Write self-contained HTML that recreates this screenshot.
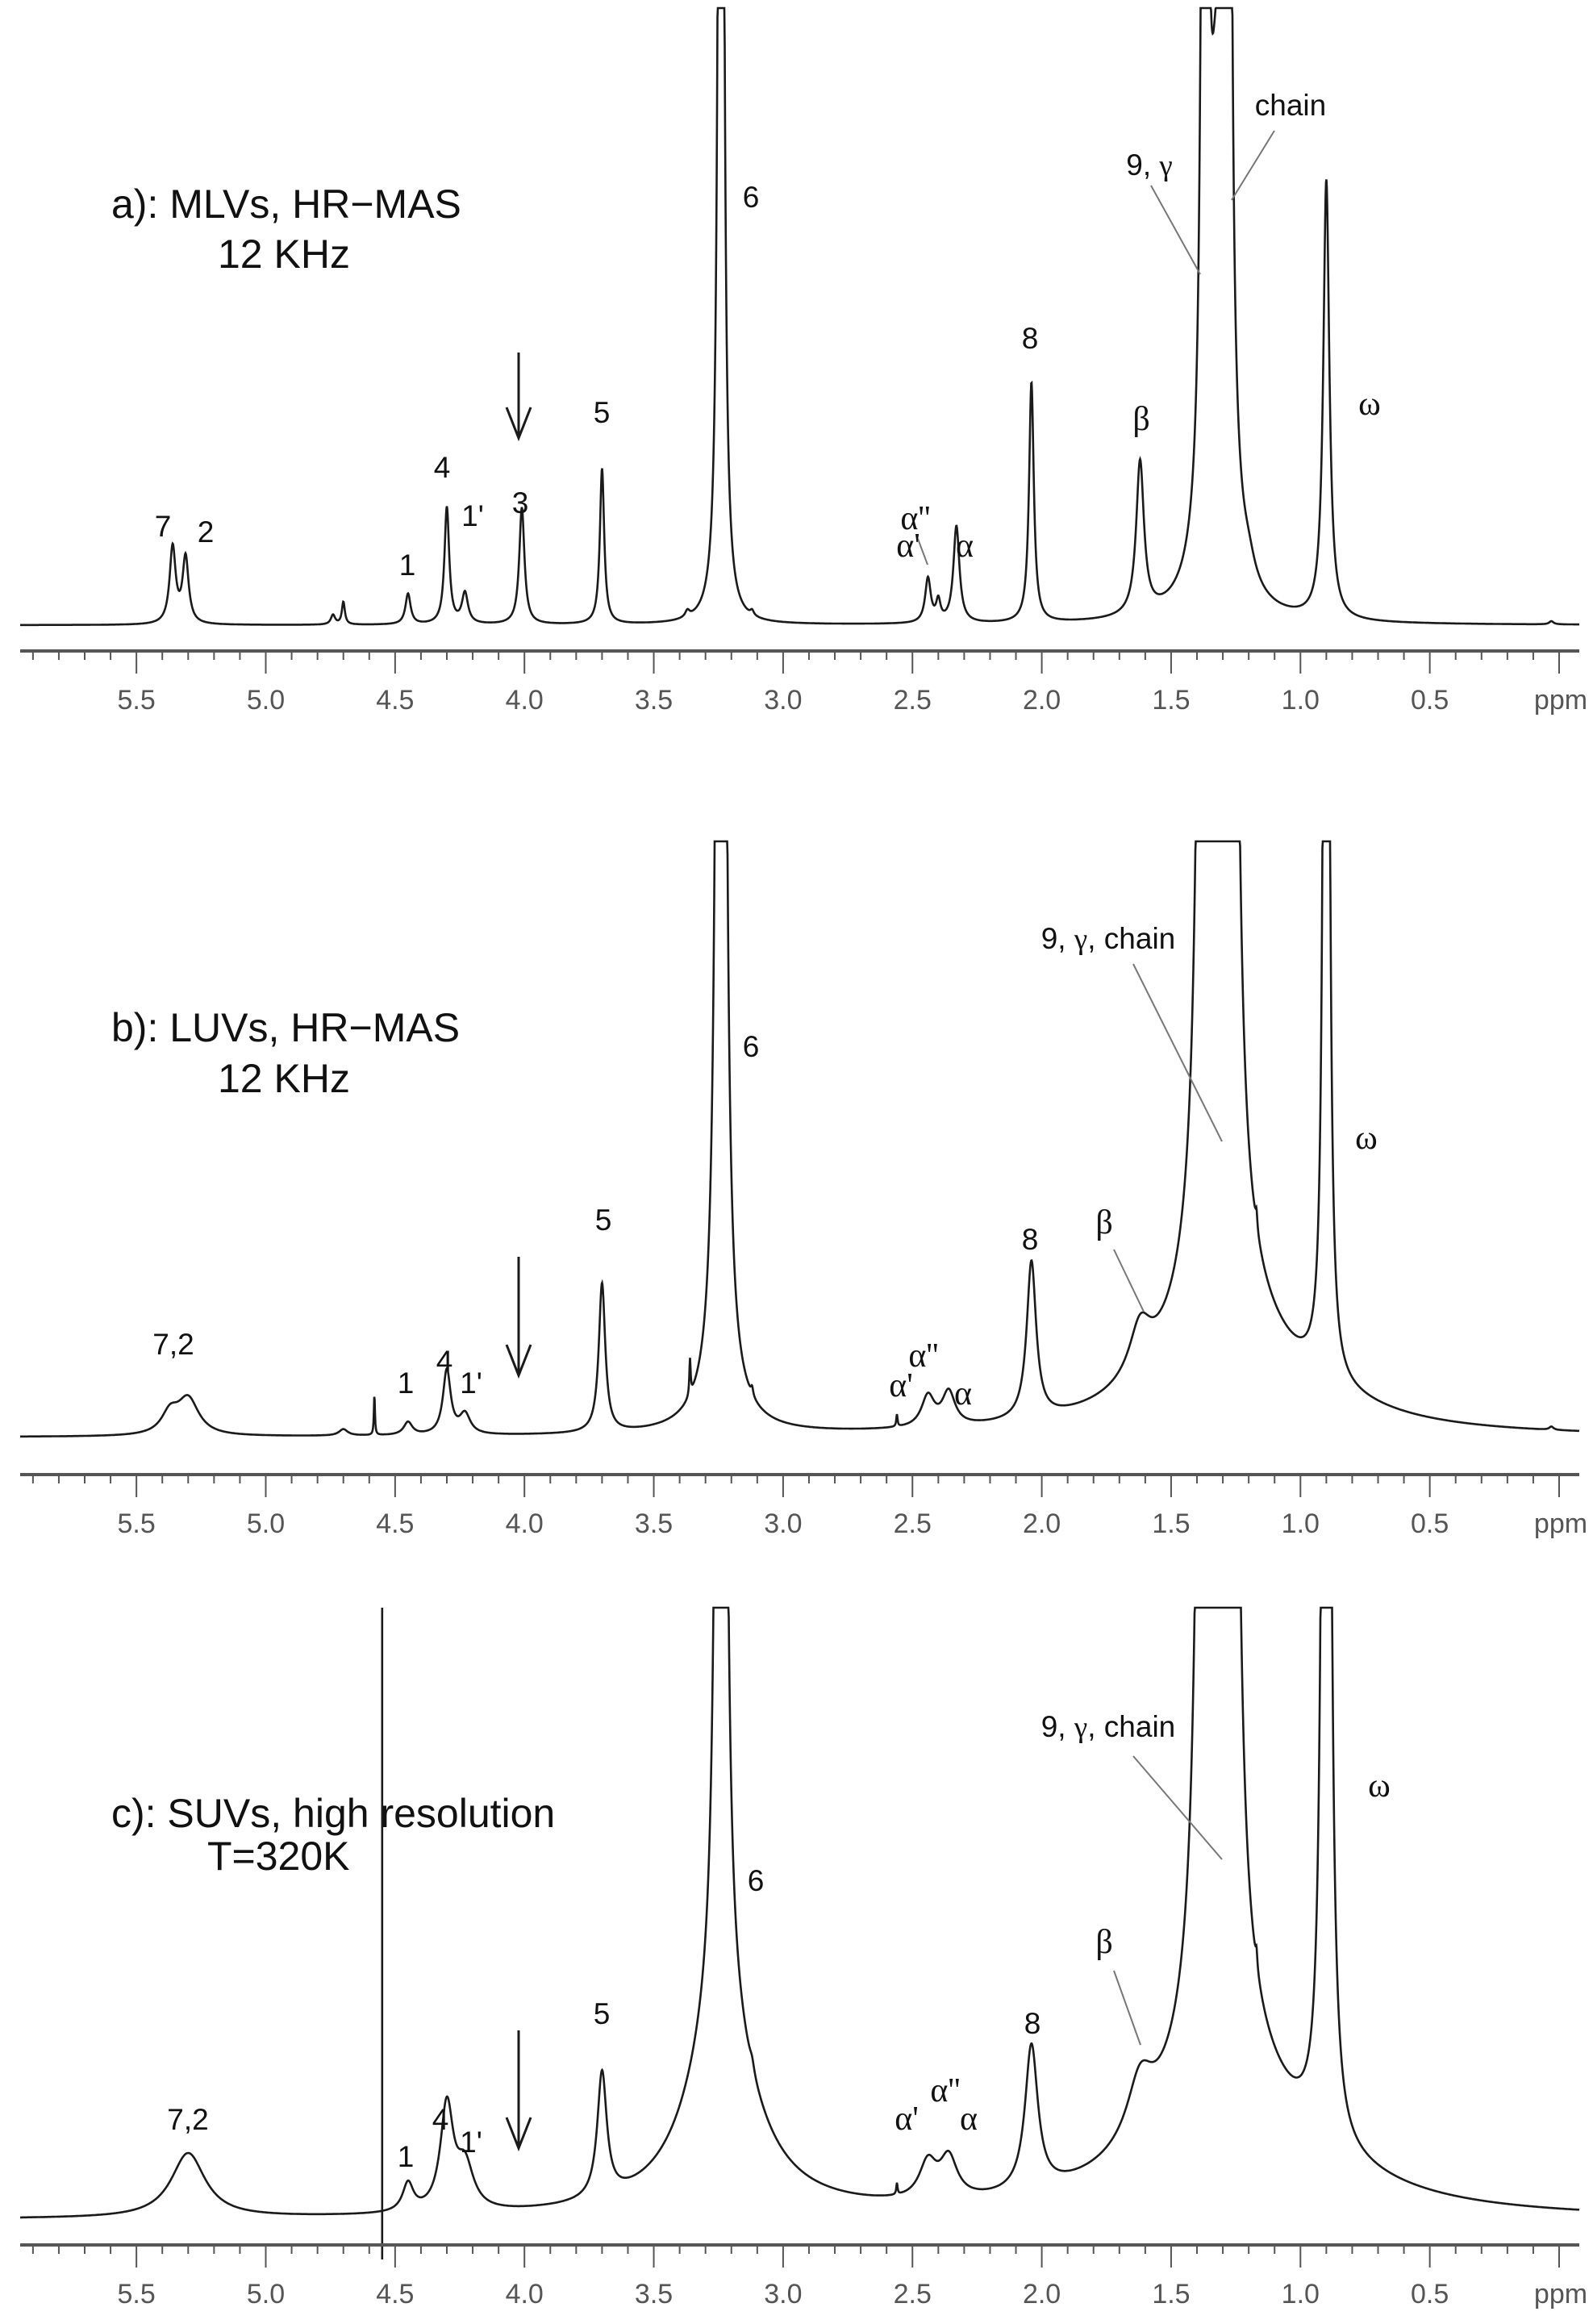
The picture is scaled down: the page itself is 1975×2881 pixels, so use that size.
<!DOCTYPE html>
<html><head><meta charset="utf-8">
<style>
html,body{margin:0;padding:0;background:#fff;}
svg{display:block;}
.t{font-family:"Liberation Sans",sans-serif;fill:#111;}
.tk{font-family:"Liberation Sans",sans-serif;fill:#555;font-size:34px;text-anchor:middle;}
.lb{font-family:"Liberation Sans",sans-serif;fill:#111;font-size:37px;text-anchor:middle;}
.gr{font-family:"Liberation Serif",serif;fill:#111;font-size:42px;text-anchor:middle;}
</style></head>
<body>
<svg id="s" width="1975" height="2881" viewBox="0 0 1975 2881" xmlns="http://www.w3.org/2000/svg">
<g id="spec" fill="none" stroke="#1a1a1a" stroke-width="2.6"></g>
<g id="axes"></g>
<g id="ann" stroke="#777" stroke-width="2" fill="none">
  <line x1="1427" y1="230" x2="1488" y2="340"/>
  <line x1="1580" y1="162" x2="1527" y2="248"/>
  <line x1="1138" y1="668" x2="1150" y2="700"/>
  <line x1="1405" y1="1195" x2="1515" y2="1415"/>
  <line x1="1381" y1="1549" x2="1418" y2="1626"/>
  <line x1="1405" y1="2177" x2="1515" y2="2305"/>
  <line x1="1381" y1="2443" x2="1414" y2="2535"/>
</g>
<g stroke="#1a1a1a" stroke-width="3" fill="none">
  <line x1="643" y1="437" x2="643" y2="540"/><path d="M628 505 L643 543 L658 505"/>
  <line x1="643" y1="1558" x2="643" y2="1702"/><path d="M628 1667 L643 1705 L658 1667"/>
  <line x1="643" y1="2517" x2="643" y2="2660"/><path d="M628 2625 L643 2663 L658 2625"/>
</g>
<text class="t" x="138" y="270" font-size="50">a): MLVs, HR−MAS</text>
<text class="t" x="270" y="332" font-size="50">12 KHz</text>
<text class="t" x="138" y="1291" font-size="50">b): LUVs, HR−MAS</text>
<text class="t" x="270" y="1354" font-size="50">12 KHz</text>
<text class="t" x="138" y="2265" font-size="50">c): SUVs, high resolution</text>
<text class="t" x="257" y="2318" font-size="50">T=320K</text>
<text class="lb" x="202" y="665">7</text><text class="lb" x="255" y="672">2</text>
<text class="lb" x="505" y="713">1</text><text class="lb" x="548" y="592">4</text>
<text class="lb" x="586" y="652">1'</text><text class="lb" x="645" y="636">3</text>
<text class="lb" x="746" y="524">5</text><text class="lb" x="931" y="257">6</text>
<text class="gr" x="1135" y="656">α''</text><text class="gr" x="1126" y="690">α'</text><text class="gr" x="1196" y="690">α</text>
<text class="lb" x="1277" y="432">8</text><text class="gr" x="1415" y="533">β</text>
<text class="lb" x="1425" y="217">9, <tspan font-family="Liberation Serif">γ</tspan></text>
<text class="lb" x="1600" y="143">chain</text>
<text class="gr" x="1698" y="514">ω</text>
<text class="lb" x="215" y="1679">7,2</text>
<text class="lb" x="503" y="1727">1</text><text class="lb" x="551" y="1700">4</text><text class="lb" x="584" y="1727">1'</text>
<text class="lb" x="748" y="1525">5</text><text class="lb" x="931" y="1310">6</text>
<text class="gr" x="1117" y="1731">α'</text><text class="gr" x="1145" y="1694">α''</text><text class="gr" x="1194" y="1741">α</text>
<text class="lb" x="1277" y="1549">8</text><text class="gr" x="1369" y="1529">β</text>
<text class="lb" x="1374" y="1176">9, <tspan font-family="Liberation Serif">γ</tspan>, chain</text>
<text class="gr" x="1694" y="1424">ω</text>
<text class="lb" x="233" y="2640">7,2</text>
<text class="lb" x="503" y="2686">1</text><text class="lb" x="546" y="2640">4</text><text class="lb" x="584" y="2668">1'</text>
<text class="lb" x="746" y="2509">5</text><text class="lb" x="937" y="2344">6</text>
<text class="gr" x="1124" y="2640">α'</text><text class="gr" x="1172" y="2605">α''</text><text class="gr" x="1201" y="2640">α</text>
<text class="lb" x="1280" y="2521">8</text><text class="gr" x="1369" y="2421">β</text>
<text class="lb" x="1374" y="2153">9, <tspan font-family="Liberation Serif">γ</tspan>, chain</text>
<text class="gr" x="1710" y="2227">ω</text>
</svg>
<script>
(function(){
var NS="http://www.w3.org/2000/svg";
function X(p){return 1933-320.7*p;}
var panels=[
 {B:775,T:10,pk:[[5.36,95,0.014],[5.31,82,0.014],[4.74,12,0.01],[4.70,28,0.007],[4.45,38,0.012],[4.30,145,0.011],[4.23,38,0.014],[4.01,145,0.012],[3.70,193,0.010],[3.37,8,0.01],[3.24,3000,0.008],[3.12,6,0.008],[2.44,55,0.013],[2.40,25,0.01],[2.33,120,0.014],[2.04,298,0.011],[1.62,190,0.018],[1.37,3000,0.008],[1.28,3000,0.008],[1.32,600,0.04],[1.20,20,0.03],[0.90,545,0.014],[0.03,4,0.01]]},
 {B:1782,T:1043,pk:[[5.37,25,0.04],[5.30,45,0.05],[4.70,8,0.02],[4.58,50,0.0025],[4.45,16,0.02],[4.30,80,0.018],[4.23,25,0.025],[3.70,185,0.015],[3.36,45,0.003],[3.24,6000,0.009],[3.24,40,0.1],[3.12,10,0.005],[2.56,15,0.003],[2.44,38,0.03],[2.36,42,0.03],[2.04,195,0.022],[1.62,60,0.05],[1.37,3000,0.015],[1.27,3000,0.015],[1.32,600,0.04],[1.30,165,0.25],[1.17,20,0.004],[0.90,3000,0.008],[0.90,15,0.3],[0.03,4,0.01]]},
 {B:2752,T:1993,pk:[[5.30,80,0.08],[4.45,35,0.025],[4.30,130,0.03],[4.23,55,0.04],[3.70,155,0.022],[3.24,6000,0.009],[3.24,250,0.15],[3.12,10,0.01],[2.56,14,0.003],[2.44,45,0.04],[2.36,50,0.04],[2.04,180,0.03],[1.62,70,0.06],[1.37,3000,0.016],[1.27,3000,0.016],[1.32,600,0.04],[1.30,200,0.28],[1.17,20,0.004],[0.90,4000,0.01],[0.90,20,0.35]]}
];
var g=document.getElementById('spec');
panels.forEach(function(P){
 var d="";
 for(var x=25;x<=1958;x+=0.5){
  var p=(1933-x)/320.7,s=0;
  for(var i=0;i<P.pk.length;i++){var k=P.pk[i],dd=p-k[0];s+=k[1]*k[2]*k[2]/(dd*dd+k[2]*k[2]);}
  var y=Math.max(P.T,P.B-s);
  d+=(d?"L":"M")+x.toFixed(1)+" "+y.toFixed(1);
 }
 var e=document.createElementNS(NS,'path');e.setAttribute('d',d);g.appendChild(e);
});
var sp=document.createElementNS(NS,'path');sp.setAttribute('d',"M"+X(4.55)+" 1993 L"+X(4.55)+" 2801");g.appendChild(sp);
var ax=document.getElementById('axes');
[807,1828,2783].forEach(function(Y){
 var l=document.createElementNS(NS,'rect');l.setAttribute('x',25);l.setAttribute('y',Y-2);l.setAttribute('width',1933);l.setAttribute('height',4);l.setAttribute('fill','#555');ax.appendChild(l);
 for(var t=0;t<=59;t++){
  var p=t/10,x=X(p),maj=(t%5===0);
  var tk=document.createElementNS(NS,'line');
  tk.setAttribute('x1',x);tk.setAttribute('x2',x);tk.setAttribute('y1',Y);tk.setAttribute('y2',Y+(maj?28:11));
  tk.setAttribute('stroke','#555');tk.setAttribute('stroke-width',2);ax.appendChild(tk);
  if(maj&&t>0){var tx=document.createElementNS(NS,'text');tx.setAttribute('class','tk');tx.setAttribute('x',x);tx.setAttribute('y',Y+72);tx.textContent=p.toFixed(1);ax.appendChild(tx);}
 }
 var pp=document.createElementNS(NS,'text');pp.setAttribute('class','tk');pp.setAttribute('x',1935);pp.setAttribute('y',Y+72);pp.textContent='ppm';ax.appendChild(pp);
});
})();
</script>
</body></html>
